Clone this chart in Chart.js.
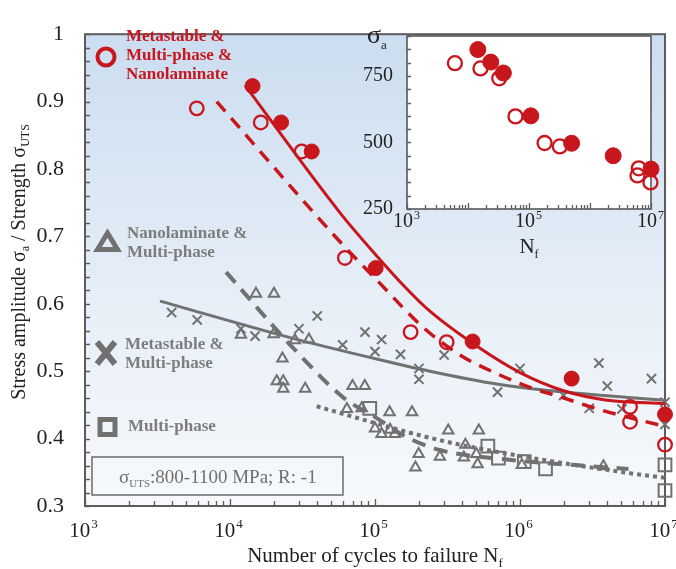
<!DOCTYPE html>
<html>
<head>
<meta charset="utf-8">
<title>Stress amplitude vs cycles to failure</title>
<script src="https://cdn.jsdelivr.net/npm/chart.js@4.4.1/dist/chart.umd.min.js"></script>
<style>
  html, body { margin: 0; padding: 0; background: #fff; }
  #wrap { position: relative; width: 676px; height: 569px; }
  canvas { position: absolute; }
  #mainChart { left: 0; top: 0; width: 676px; height: 569px; }
  #insetChart { left: 345px; top: 10px; width: 320px; height: 250px; }
</style>
</head>
<body>
<div id="wrap">
  <canvas id="mainChart" width="676" height="569"></canvas>
  <canvas id="insetChart" width="320" height="250"></canvas>
</div>
<script>
// main plot: cycles to failure N_f and stress amplitude / UTS
const redFilledN = [1.43e4, 2.25e4, 3.66e4, 1.01e5, 4.71e5, 2.27e6, 1e7];
const redFilledS = [0.923, 0.869, 0.826, 0.653, 0.544, 0.489, 0.436];
const redOpenN = [5.9e3, 1.63e4, 3.12e4, 6.2e4, 1.76e5, 3.12e5, 5.74e6, 5.74e6, 1e7];
const redOpenS = [0.890, 0.869, 0.826, 0.668, 0.558, 0.543, 0.447, 0.425, 0.391];

const crossN = [3.96e3, 5.94e3, 1.19e4, 1.49e4, 2.99e4, 4.0e4, 5.98e4, 8.53e4, 1.0e5, 1.11e5, 1.5e5, 2.01e5, 2.01e5,
  3.0e5, 7.0e5, 1.0e6, 2.0e6, 3.0e6, 3.5e6, 4.0e6, 5.05e6, 8.07e6, 1e7, 1e7, 1e7];
const crossS = [0.587, 0.576, 0.563, 0.552, 0.563, 0.582, 0.539, 0.558, 0.529, 0.547, 0.525, 0.504, 0.488,
  0.524, 0.469, 0.504, 0.464, 0.445, 0.512, 0.478, 0.444, 0.489, 0.454, 0.436, 0.421];

const triN = [1.19e4, 1.51e4, 2.0e4, 2.01e4, 2.1e4, 2.3e4, 2.33e4, 2.33e4, 2.8e4, 3.3e4, 3.5e4, 6.4e4, 7.0e4, 8.1e4,
  8.5e4, 1.0e5, 1.11e5, 1.26e5, 1.27e5, 1.37e5, 1.8e5, 1.9e5, 2.0e5, 2.8e5, 3.2e5, 4.1e5, 4.2e5, 5.0e5, 5.1e5,
  5.2e5, 1.03e6, 3.76e6];
const triS = [0.554, 0.615, 0.555, 0.615, 0.485, 0.519, 0.485, 0.474, 0.546, 0.474, 0.547, 0.444, 0.478, 0.445,
  0.478, 0.415, 0.407, 0.439, 0.413, 0.407, 0.439, 0.357, 0.377, 0.373, 0.412, 0.372, 0.391, 0.377, 0.362,
  0.412, 0.361, 0.359];

const squareN = [9.2e4, 6.0e5, 7.1e5, 1.07e6, 1.5e6, 1e7, 1e7];
const squareS = [0.445, 0.389, 0.371, 0.366, 0.355, 0.361, 0.323];

// fitted trend lines
const redFitN = [1.27e4, 5.74e4, 1.0e5, 1.61e5, 2.39e5, 5.3e5, 1e6, 2e6, 4e6, 1e7];
const redFitS = [0.924, 0.735, 0.674, 0.625, 0.589, 0.534, 0.498, 0.471, 0.457, 0.452];
const redDashN = [8.1e3, 5.74e4, 1.0e5, 2.15e5, 3.85e5, 5.3e5, 1.17e6, 1.89e6, 3.55e6, 1e7];
const redDashS = [0.900, 0.692, 0.638, 0.565, 0.524, 0.508, 0.476, 0.462, 0.443, 0.418];
const grayFitN = [3.29e3, 2.8e4, 1.08e5, 2.39e5, 6.9e5, 2e6, 1e7];
const grayFitS = [0.604, 0.548, 0.517, 0.500, 0.481, 0.469, 0.457];
const grayDashN = [9.4e3, 2.74e4, 6.2e4, 9.7e4, 1.66e5, 2.81e5, 8.1e5, 3.55e6, 5.6e6];
const grayDashS = [0.647, 0.534, 0.459, 0.434, 0.402, 0.383, 0.369, 0.358, 0.355];
const grayDotN = [3.96e4, 5.74e4, 1.65e5, 3.66e5, 1.23e6, 6.03e6, 1e7];
const grayDotS = [0.448, 0.438, 0.410, 0.392, 0.371, 0.348, 0.342];

// inset: stress amplitude in MPa
const insetFilledN = [1.45e4, 2.36e4, 3.8e4, 1.07e5, 5.0e5, 2.4e6, 1e7];
const insetFilledS = [849, 802, 761, 600, 497, 450, 400];
const insetOpenN = [6.1e3, 1.6e4, 3.25e4, 6.0e4, 1.8e5, 3.2e5, 6.3e6, 6.0e6, 9.8e6];
const insetOpenS = [798, 778, 741, 598, 498, 485, 403, 376, 350];

// tick labels
const yTickLabels = [0.3, 0.4, 0.5, 0.6, 0.7, 0.8, 0.9, 1];
const xTickLabels = [1e3, 1e4, 1e5, 1e6, 1e7];
const insetYTickLabels = [250, 500, 750];
const insetXTickLabels = [1e3, 1e5, 1e7];

const serif = "'Liberation Serif', 'Times New Roman', serif";
const red = '#c8161d';
const gray = '#717171';
const frameColor = '#5c5c5c';

function pts(xs, ys) {
  return xs.map(function(x, i) { return { x: x, y: ys[i] }; });
}

function drawRich(ctx, parts, x, y, size, subSize, align, color, weight) {
  const w = weight ? weight + ' ' : '';
  const widths = parts.map(function(p) {
    ctx.font = w + (p[1] ? subSize : size) + 'px ' + serif;
    return ctx.measureText(p[0]).width;
  });
  const total = widths.reduce(function(a, b) { return a + b; }, 0);
  let cx = align === 'center' ? x - total / 2 : x;
  ctx.textAlign = 'left';
  ctx.textBaseline = 'alphabetic';
  ctx.fillStyle = color;
  parts.forEach(function(p, i) {
    ctx.font = w + (p[1] ? subSize : size) + 'px ' + serif;
    ctx.fillText(p[0], cx, p[1] ? y + size * 0.22 : y);
    cx += widths[i];
  });
}

function drawPow10(ctx, x, baseline, value, size) {
  const exp = String(Math.round(Math.log10(value)));
  const supSize = Math.round(size * 0.6);
  ctx.font = size + 'px ' + serif;
  const w1 = ctx.measureText('10').width;
  ctx.font = supSize + 'px ' + serif;
  const w2 = ctx.measureText(exp).width;
  const left = x - (w1 + w2) / 2 - 1;
  ctx.textAlign = 'left';
  ctx.textBaseline = 'alphabetic';
  ctx.fillStyle = '#222';
  ctx.font = size + 'px ' + serif;
  ctx.fillText('10', left, baseline);
  ctx.font = supSize + 'px ' + serif;
  ctx.fillText(exp, left + w1 + 1, baseline - size * 0.42);
}

// inward tick marks on the left and bottom edges
function drawTicks(chart, yStep, tickLen) {
  const ctx = chart.ctx;
  const a = chart.chartArea;
  const xs = chart.scales.x;
  const ys = chart.scales.y;
  ctx.save();
  ctx.strokeStyle = frameColor;
  ctx.lineWidth = 1.3;
  ctx.beginPath();
  for (let v = ys.min; v <= ys.max + 1e-9; v += yStep) {
    const py = Math.round(ys.getPixelForValue(v)) + 0.5;
    ctx.moveTo(a.left, py);
    ctx.lineTo(a.left + tickLen, py);
  }
  for (let e = Math.round(Math.log10(xs.min)); e < Math.round(Math.log10(xs.max)); e++) {
    for (let k = 1; k <= 10; k++) {
      const px = Math.round(xs.getPixelForValue(k * Math.pow(10, e))) + 0.5;
      const len = (k === 1 || k === 10) ? tickLen + 2 : tickLen;
      ctx.moveTo(px, a.bottom);
      ctx.lineTo(px, a.bottom - len);
    }
  }
  ctx.stroke();
  ctx.restore();
}

const mainDecor = {
  id: 'mainDecor',
  beforeDraw(chart) {
    const ctx = chart.ctx;
    const a = chart.chartArea;
    const g = ctx.createLinearGradient(0, a.top, 0, a.bottom);
    g.addColorStop(0, '#cbddf0');
    g.addColorStop(0.55, '#e6eef7');
    g.addColorStop(1, '#f7f9fb');
    ctx.save();
    ctx.fillStyle = g;
    ctx.fillRect(a.left, a.top, a.right - a.left, a.bottom - a.top);
    ctx.restore();
  },
  beforeDatasetsDraw(chart) {
    const ctx = chart.ctx;
    const a = chart.chartArea;
    ctx.save();
    ctx.strokeStyle = frameColor;
    ctx.lineWidth = 2;
    ctx.strokeRect(a.left, a.top, a.right - a.left, a.bottom - a.top);
    ctx.restore();
    drawTicks(chart, 0.02, 5);
  },
  afterDraw(chart) {
    const ctx = chart.ctx;
    const a = chart.chartArea;
    const xs = chart.scales.x;
    ctx.save();

    xTickLabels.forEach(function(v) {
      drawPow10(ctx, xs.getPixelForValue(v) - 1, 537, v, 21);
    });

    drawRich(ctx, [['Number of cycles to failure N', 0], ['f', 1]], (a.left + a.right) / 2, 562, 21, 13, 'center', '#222');

    ctx.save();
    ctx.translate(25, 262);
    ctx.rotate(-Math.PI / 2);
    drawRich(ctx, [['Stress amplitude σ', 0], ['a', 1], [' / Strength σ', 0], ['UTS', 1]], 0, 0, 20, 12, 'center', '#222');
    ctx.restore();

    // legend: red circle
    ctx.strokeStyle = red;
    ctx.lineWidth = 4;
    ctx.beginPath();
    ctx.arc(106, 57, 8.5, 0, Math.PI * 2);
    ctx.stroke();
    ctx.fillStyle = red;
    ctx.font = 'bold 17px ' + serif;
    ctx.textAlign = 'left';
    ctx.textBaseline = 'middle';
    ctx.fillText('Metastable &', 126, 37);
    ctx.fillText('Multi-phase &', 126, 56);
    ctx.fillText('Nanolaminate', 126, 75);

    // legend: triangle
    ctx.strokeStyle = gray;
    ctx.lineJoin = 'miter';
    ctx.lineWidth = 5;
    ctx.beginPath();
    ctx.moveTo(107.5, 233);
    ctx.lineTo(97.5, 249.5);
    ctx.lineTo(117.5, 249.5);
    ctx.closePath();
    ctx.stroke();
    ctx.fillStyle = '#7d7d7d';
    ctx.fillText('Nanolaminate &', 127, 234);
    ctx.fillText('Multi-phase', 127, 253);

    // legend: cross
    ctx.lineWidth = 6;
    ctx.lineCap = 'butt';
    ctx.beginPath();
    ctx.moveTo(97, 342);
    ctx.lineTo(115, 364);
    ctx.moveTo(115, 342);
    ctx.lineTo(97, 364);
    ctx.stroke();
    ctx.fillText('Metastable &', 125, 345);
    ctx.fillText('Multi-phase', 125, 364);

    // legend: square
    ctx.lineWidth = 5;
    ctx.strokeRect(100, 419.5, 15, 15);
    ctx.fillText('Multi-phase', 128, 427);

    // condition box
    ctx.strokeStyle = '#555';
    ctx.lineWidth = 1.3;
    ctx.strokeRect(92, 457, 251, 38);
    drawRich(ctx, [['σ', 0], ['UTS', 1], [':800-1100 MPa; R: -1', 0]], 119, 483, 19, 11, 'left', '#6f6f6f');

    ctx.restore();
  }
};

const insetDecor = {
  id: 'insetDecor',
  beforeDraw(chart) {
    const ctx = chart.ctx;
    const a = chart.chartArea;
    ctx.save();
    ctx.fillStyle = '#ffffff';
    ctx.fillRect(a.left, a.top, a.right - a.left, a.bottom - a.top);
    ctx.restore();
  },
  beforeDatasetsDraw(chart) {
    const ctx = chart.ctx;
    const a = chart.chartArea;
    ctx.save();
    ctx.strokeStyle = '#4e4e4e';
    ctx.lineWidth = 1.5;
    ctx.strokeRect(a.left, a.top, a.right - a.left, a.bottom - a.top);
    ctx.restore();
    drawTicks(chart, 50, 4);
  },
  afterDraw(chart) {
    const ctx = chart.ctx;
    const xs = chart.scales.x;
    ctx.save();
    insetXTickLabels.forEach(function(v) {
      drawPow10(ctx, xs.getPixelForValue(v), 217, v, 20);
    });
    drawRich(ctx, [['N', 0], ['f', 1]], xs.getPixelForValue(1e5), 243, 21, 12, 'center', '#222');
    drawRich(ctx, [['σ', 0], ['a', 1]], 22, 33, 26, 13, 'left', '#222');
    ctx.restore();
  }
};

const lineBase = {
  showLine: true,
  pointRadius: 0,
  fill: false,
  cubicInterpolationMode: 'monotone'
};

new Chart(document.getElementById('mainChart'), {
  type: 'scatter',
  data: {
    datasets: [
      { data: pts(redFilledN, redFilledS), pointStyle: 'circle', pointRadius: 7.5, backgroundColor: red, borderColor: red, borderWidth: 1, clip: false },
      { data: pts(redOpenN, redOpenS), pointStyle: 'circle', pointRadius: 6.8, backgroundColor: 'rgba(0,0,0,0)', borderColor: red, borderWidth: 2.3, clip: false },
      Object.assign({ data: pts(redFitN, redFitS), borderColor: red, borderWidth: 3 }, lineBase),
      Object.assign({ data: pts(redDashN, redDashS), borderColor: red, borderWidth: 3.5, borderDash: [13, 9] }, lineBase),
      { data: pts(crossN, crossS), pointStyle: 'crossRot', pointRadius: 6.5, borderColor: gray, borderWidth: 2, backgroundColor: gray, clip: false },
      { data: pts(triN, triS), pointStyle: 'triangle', pointRadius: 6, borderColor: gray, borderWidth: 2, backgroundColor: 'rgba(0,0,0,0)', clip: false },
      { data: pts(squareN, squareS), pointStyle: 'rect', pointRadius: 9, borderColor: gray, borderWidth: 2, backgroundColor: 'rgba(0,0,0,0)', clip: false },
      Object.assign({ data: pts(grayFitN, grayFitS), borderColor: gray, borderWidth: 3 }, lineBase),
      Object.assign({ data: pts(grayDashN, grayDashS), borderColor: gray, borderWidth: 4, borderDash: [14, 9] }, lineBase),
      Object.assign({ data: pts(grayDotN, grayDotS), borderColor: gray, borderWidth: 4, borderDash: [4, 4] }, lineBase)
    ]
  },
  options: {
    responsive: false,
    animation: false,
    events: [],
    layout: { padding: { top: 19, right: 11, left: 0, bottom: 0 } },
    plugins: { legend: { display: false }, tooltip: { enabled: false } },
    scales: {
      x: {
        type: 'logarithmic',
        min: 1e3,
        max: 1e7,
        grid: { display: false, drawTicks: false },
        border: { display: false },
        ticks: { display: false },
        afterFit: function(scale) { scale.height = 63; }
      },
      y: {
        type: 'linear',
        min: 0.3,
        max: 1,
        grid: { display: false, drawTicks: false },
        border: { display: false },
        afterBuildTicks: function(scale) {
          scale.ticks = yTickLabels.map(function(v) { return { value: v }; });
        },
        ticks: {
          padding: 21,
          color: '#222',
          font: { family: serif, size: 22 },
          callback: function(v) { return v === 1 ? '1' : v.toFixed(1); }
        },
        afterFit: function(scale) { scale.width = 85; }
      }
    }
  },
  plugins: [mainDecor]
});

new Chart(document.getElementById('insetChart'), {
  type: 'scatter',
  data: {
    datasets: [
      { data: pts(insetFilledN, insetFilledS), pointStyle: 'circle', pointRadius: 8, backgroundColor: red, borderColor: red, borderWidth: 1, clip: false },
      { data: pts(insetOpenN, insetOpenS), pointStyle: 'circle', pointRadius: 7, backgroundColor: 'rgba(0,0,0,0)', borderColor: red, borderWidth: 2.3, clip: false }
    ]
  },
  options: {
    responsive: false,
    animation: false,
    events: [],
    layout: { padding: { top: 17, right: 14, left: 0, bottom: 0 } },
    plugins: { legend: { display: false }, tooltip: { enabled: false } },
    scales: {
      x: {
        type: 'logarithmic',
        min: 1e3,
        max: 1e7,
        grid: { display: false, drawTicks: false },
        border: { display: false },
        ticks: { display: false },
        afterFit: function(scale) { scale.height = 51; }
      },
      y: {
        type: 'linear',
        min: 250,
        max: 900,
        grid: { display: false, drawTicks: false },
        border: { display: false },
        afterBuildTicks: function(scale) {
          scale.ticks = insetYTickLabels.map(function(v) { return { value: v }; });
        },
        ticks: {
          padding: 14,
          color: '#222',
          font: { family: serif, size: 20 }
        },
        afterFit: function(scale) { scale.width = 62; }
      }
    }
  },
  plugins: [insetDecor]
});
</script>
</body>
</html>
